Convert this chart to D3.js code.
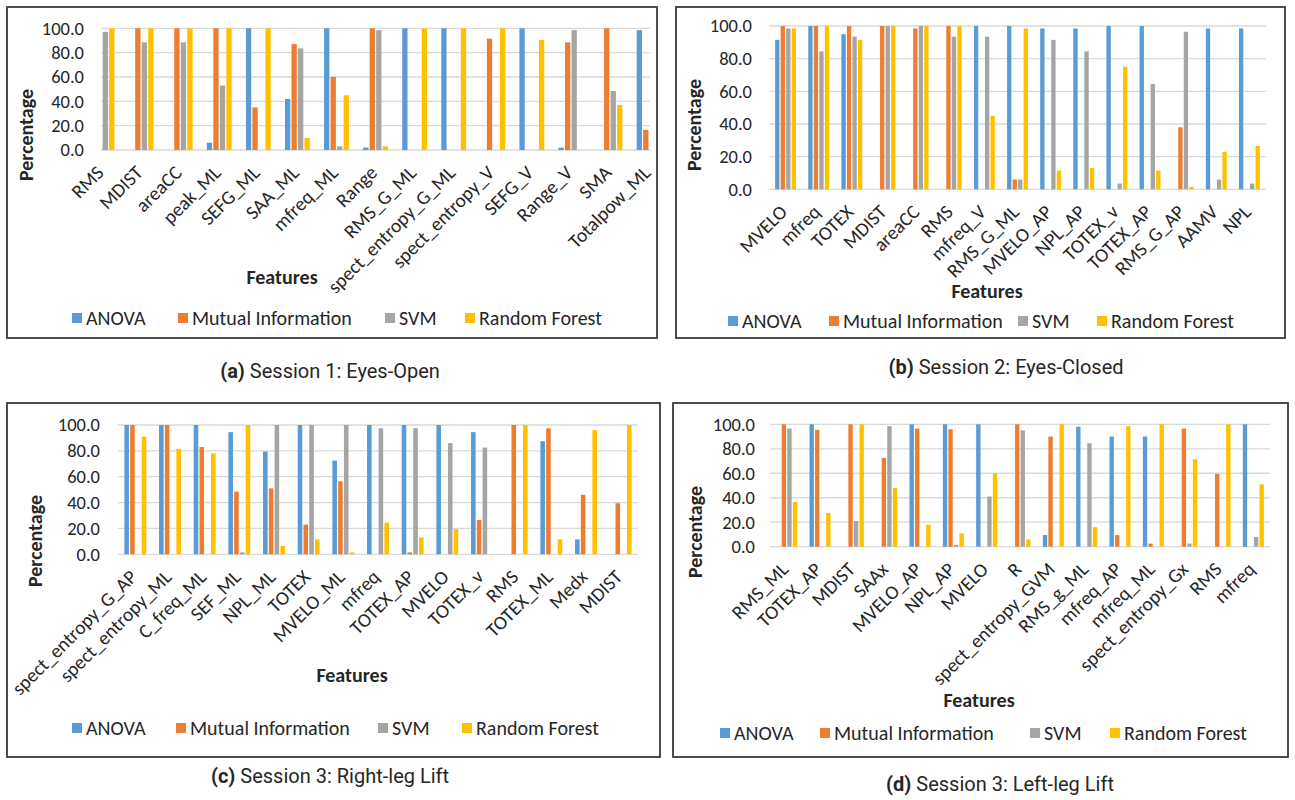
<!DOCTYPE html>
<html>
<head>
<meta charset="utf-8">
<script src="https://cdn.jsdelivr.net/npm/d3@7"></script>
<style>
  body { margin: 0; background: #fff; }
  svg text { fill: #262626; }
</style>
</head>
<body>
<div id="chart"></div>
<script>
// series + ticks
const series = ["ANOVA", "Mutual Information", "SVM", "Random Forest"];
const colors = ["#5B9BD5", "#ED7D31", "#A5A5A5", "#FFC000"];
const yTicks = [0, 20, 40, 60, 80, 100];

// (a) Session 1: Eyes-Open
const featuresA = ["RMS", "MDIST", "areaCC", "peak_ML", "SEFG_ML", "SAA_ML", "mfreq_ML", "Range", "RMS_G_ML", "spect_entropy_G_ML", "spect_entropy_V", "SEFG_V", "Range_V", "SMA", "Totalpow_ML"];
const anovaA  = [0, 0, 0, 6, 100, 42, 100, 2, 100, 100, 0, 100, 2, 0, 98.5];
const mutualA = [0, 100, 100, 100, 35, 87, 60, 100, 0, 0, 91.5, 0, 88.5, 100, 16.5];
const svmA    = [97, 88.5, 88.5, 53, 0, 83.5, 3, 98.5, 0, 0, 0, 0, 98.5, 48.5, 0];
const forestA = [100, 100, 100, 100, 100, 10, 45, 3, 100, 100, 100, 90.5, 0, 37, 0];

// (b) Session 2: Eyes-Closed
const featuresB = ["MVELO", "mfreq", "TOTEX", "MDIST", "areaCC", "RMS", "mfreq_V", "RMS_G_ML", "MVELO_AP", "NPL_AP", "TOTEX_v", "TOTEX_AP", "RMS_G_AP", "AAMV", "NPL"];
const anovaB  = [91.5, 100, 95, 0, 0, 0, 100, 100, 98.5, 98.5, 100, 100, 0, 98.5, 98.5];
const mutualB = [100, 100, 100, 100, 98.5, 100, 0, 6, 0, 0, 0, 0, 38, 0, 0];
const svmB    = [98.5, 84.5, 93.5, 100, 100, 93.5, 93.5, 6, 91.5, 84.5, 3.5, 64.5, 96.5, 6, 3.5];
const forestB = [98.5, 100, 91.5, 100, 100, 100, 45, 98.5, 11.5, 13, 75, 11.5, 1.5, 23, 26.5];

// (c) Session 3: Right-leg Lift
const featuresC = ["spect_entropy_G_AP", "spect_entropy_ML", "C_freq_ML", "SEF_ML", "NPL_ML", "TOTEX", "MVELO_ML", "mfreq", "TOTEX_AP", "MVELO", "TOTEX_v", "RMS", "TOTEX_ML", "Medx", "MDIST"];
const anovaC  = [100, 100, 100, 94.5, 79.5, 100, 72.5, 100, 100, 100, 94.5, 0, 87.5, 11.5, 0];
const mutualC = [100, 100, 83, 48.5, 51, 23, 56.5, 0, 1.5, 0, 26.5, 100, 97.5, 46, 39.5];
const svmC    = [0, 0, 0, 1.5, 100, 100, 100, 97.5, 97.5, 86, 82.5, 0, 0, 0, 0];
const forestC = [91, 81.5, 78, 100, 6.5, 11.5, 1.5, 24.5, 13, 19.5, 0, 100, 11.5, 96, 100];

// (d) Session 3: Left-leg Lift
const featuresD = ["RMS_ML", "TOTEX_AP", "MDIST", "SAAx", "MVELO_AP", "NPL_AP", "MVELO", "R", "spect_entropy_GVM", "RMS_g_ML", "mfreq_AP", "mfreq_ML", "spect_entropy_Gx", "RMS", "mfreq"];
const anovaD  = [0, 100, 0, 0, 100, 100, 100, 0, 9.5, 98, 90, 90, 0, 0, 100];
const mutualD = [100, 95.5, 100, 72.5, 96.5, 96, 0, 100, 90, 0, 9.5, 2.5, 96.5, 59.5, 0];
const svmD    = [96.5, 0, 21, 98.5, 0, 1.5, 41, 95, 0, 84.5, 0, 0, 2.5, 0, 8];
const forestD = [36.5, 27.5, 100, 48, 18, 11, 60, 6, 100, 16, 98.5, 100, 71.5, 100, 51];

let width = 1295,
height = 800;

let svg = d3.select("#chart")
  .append("svg")
  .attr("width", width)
  .attr("height", height);

const FONT = "Carlito, Calibri, Lato, sans-serif";

// layout of each panel
let panels = [
  {feats: featuresA, vals: [anovaA, mutualA, svmA, forestA],
   box: [7, 7, 657, 338], grid: [101, 650], band: [82.5, 668.6], y0: 150, y100: 28.3,
   tickX: 84, pct: [26, 135], feat: [282, 277], legY: 318, legX: [72, 178, 385, 465],
   cap: [330, 378], tag: "(a)", title: " Session 1: Eyes-Open"},
  {feats: featuresB, vals: [anovaB, mutualB, svmB, forestB],
   box: [676, 7, 1285, 338], grid: [769, 1266], band: [769, 1266], y0: 189.3, y100: 26,
   tickX: 752, pct: [694, 125], feat: [987, 291], legY: 321, legX: [728, 829, 1018, 1097],
   cap: [1006, 374], tag: "(b)", title: " Session 2: Eyes-Closed"},
  {feats: featuresC, vals: [anovaC, mutualC, svmC, forestC],
   box: [7, 403, 660, 757], grid: [118, 638], band: [118, 638], y0: 554.3, y100: 425,
   tickX: 100, pct: [35, 541], feat: [352, 675], legY: 728, legX: [72, 176, 378, 462],
   cap: [330, 783], tag: "(c)", title: " Session 3: Right-leg Lift"},
  {feats: featuresD, vals: [anovaD, mutualD, svmD, forestD],
   box: [673, 403, 1288, 757], grid: [770, 1270], band: [770, 1270], y0: 546.7, y100: 424.3,
   tickX: 755, pct: [695, 532], feat: [979, 700], legY: 733, legX: [720, 820, 1030, 1110],
   cap: [1000, 791], tag: "(d)", title: " Session 3: Left-leg Lift"}
];

panels.forEach(drawPanel);

function drawPanel(p) {
  let g = svg.append("g");

  // frame
  g.append("rect")
    .attr("x", p.box[0])
    .attr("y", p.box[1])
    .attr("width", p.box[2] - p.box[0])
    .attr("height", p.box[3] - p.box[1])
    .attr("fill", "none")
    .attr("stroke", "#3a3a3a")
    .attr("stroke-width", 1.8);

  let y = d3.scaleLinear().domain([0, 100]).range([p.y0, p.y100]);

  let x0 = d3.scaleBand()
    .domain(p.feats)
    .range(p.band)
    .paddingInner(1 / 3)
    .paddingOuter(1 / 6);

  let x1 = d3.scaleBand()
    .domain(series)
    .range([0, x0.bandwidth()]);

  // gridlines
  g.selectAll("line.grid")
    .data(yTicks)
    .join("line")
    .attr("class", "grid")
    .attr("x1", p.grid[0])
    .attr("x2", p.grid[1])
    .attr("y1", d => y(d))
    .attr("y2", d => y(d))
    .attr("stroke", "#d9d9d9")
    .attr("stroke-width", 1.3);

  // y tick labels
  g.selectAll("text.ytick")
    .data(yTicks)
    .join("text")
    .attr("class", "ytick")
    .attr("x", p.tickX)
    .attr("y", d => y(d))
    .attr("dy", "0.35em")
    .attr("text-anchor", "end")
    .style("font-family", FONT)
    .style("font-size", "18.5px")
    .text(d => d3.format(".1f")(d));

  // bars
  let rows = [];
  p.feats.forEach((f, i) => {
    series.forEach((s, j) => {
      if (p.vals[j][i] > 0) rows.push({f: f, s: s, v: p.vals[j][i], c: colors[j]});
    });
  });

  g.selectAll("rect.bar")
    .data(rows)
    .join("rect")
    .attr("class", "bar")
    .attr("x", d => x0(d.f) + x1(d.s) + 0.6)
    .attr("width", x1.bandwidth() - 1.2)
    .attr("y", d => y(d.v))
    .attr("height", d => y(0) - y(d.v))
    .attr("fill", d => d.c);

  // x labels
  g.selectAll("text.xlab")
    .data(p.feats)
    .join("text")
    .attr("class", "xlab")
    .attr("transform", d => `translate(${x0(d) + x0.bandwidth() / 2 - 2},${p.y0 + 19}) rotate(-45)`)
    .attr("text-anchor", "end")
    .attr("dy", "0.35em")
    .style("font-family", FONT)
    .style("font-size", "19.5px")
    .text(d => d);

  // axis titles
  g.append("text")
    .attr("transform", `translate(${p.pct[0]},${p.pct[1]}) rotate(-90)`)
    .attr("text-anchor", "middle")
    .attr("dy", "0.35em")
    .style("font-family", FONT)
    .style("font-size", "20px")
    .style("font-weight", "bold")
    .text("Percentage");

  g.append("text")
    .attr("x", p.feat[0])
    .attr("y", p.feat[1])
    .attr("dy", "0.35em")
    .attr("text-anchor", "middle")
    .style("font-family", FONT)
    .style("font-size", "20px")
    .style("font-weight", "bold")
    .text("Features");

  // legend
  let leg = g.selectAll("g.leg")
    .data(series)
    .join("g")
    .attr("class", "leg")
    .attr("transform", (d, i) => `translate(${p.legX[i]},${p.legY})`);

  leg.append("rect")
    .attr("x", 0)
    .attr("y", -5)
    .attr("width", 10)
    .attr("height", 10)
    .attr("fill", (d, i) => colors[i]);

  leg.append("text")
    .attr("x", 14)
    .attr("dy", "0.35em")
    .style("font-family", FONT)
    .style("font-size", "20px")
    .text(d => d);

  // caption under the frame
  let cap = g.append("text")
    .attr("x", p.cap[0])
    .attr("y", p.cap[1])
    .attr("text-anchor", "middle")
    .style("font-family", "Roboto, sans-serif")
    .style("font-size", "20px");
  cap.append("tspan").style("font-weight", "bold").text(p.tag);
  cap.append("tspan").text(p.title);
}
</script>
</body>
</html>
